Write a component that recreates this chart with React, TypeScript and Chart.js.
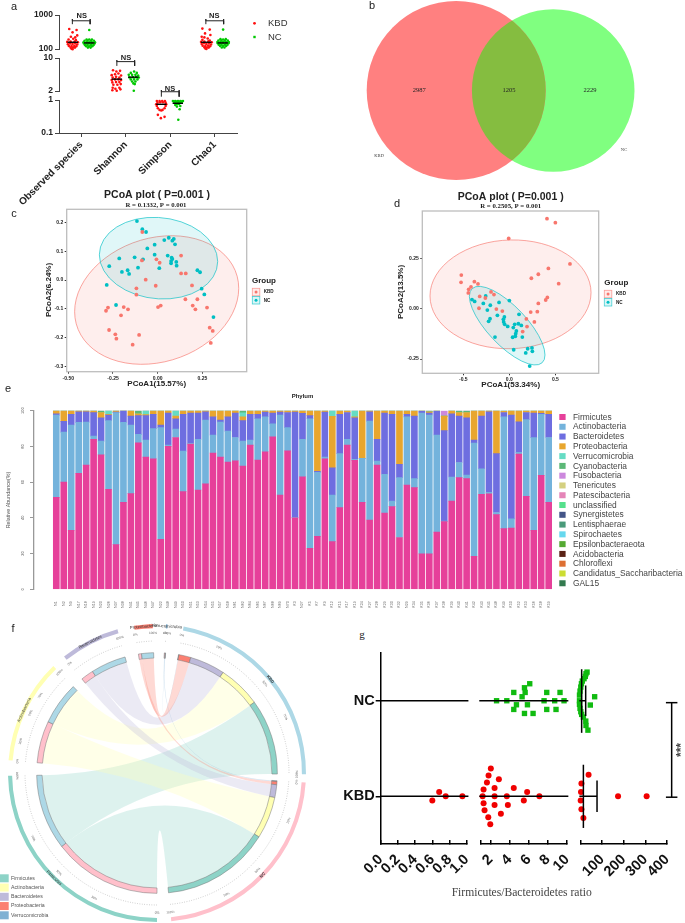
import React, { useEffect, useRef } from "react";
import { Chart, registerables } from "chart.js";
Chart.register(...registerables);

const SANS = '"Liberation Sans"';
const SERIF = '"Liberation Serif"';
const RED = "#ff1010";
const GREEN = "#00c800";
const GG_RED = "#f8766d";
const GG_BLUE = "#00bfc4";

/* ---------- panel a ---------- */
const alphaMetrics = ["Observed species", "Shannon", "Simpson", "Chao1"];
const observedKBD = [[-.075,389],[.09,363],[0,309],[-.038,229],[.06,219],[.105,251],[-.09,191],[.015,200],[.075,182],[-.12,162],[-.045,166],[.045,166],[.12,158],[-.105,138],[-.053,145],[0,141],[.06,145],[.105,135],[-.083,123],[-.023,123],[.038,123],[.083,120],[-.045,110],[.008,110],[.053,110],[0,98],[-.023,102]];
const observedNC = [[0,363],[-.06,191],[0,191],[.06,191],[-.105,174],[-.038,174],[.038,174],[.105,174],[-.128,158],[-.06,158],[0,158],[.06,158],[.128,158],[-.12,145],[-.06,145],[0,145],[.06,145],[.12,145],[-.098,132],[-.038,132],[.038,132],[.098,132],[-.068,120],[0,120],[.068,120],[-.03,110],[.03,110]];
const shannonKBD = [[-.083,5.51],[-.008,5.17],[.075,5.34],[-.113,4.33],[-.038,4.54],[.038,4.69],[.098,4.26],[-.09,3.87],[-.015,3.99],[.06,3.87],[-.113,3.4],[-.038,3.52],[.038,3.52],[.098,3.4],[-.098,3.04],[-.015,3.09],[.06,3.09],[-.075,2.71],[.015,2.71],[.09,2.8],[-.09,2.35],[-.03,2.24],[.06,2.35],[0,2.03],[-.098,2.07],[.083,2.17]];
const shannonNC = [[.015,5.17],[-.06,4.84],[.075,4.84],[-.105,4.4],[-.03,4.4],[.045,4.4],[.105,4.26],[-.09,3.87],[-.015,3.93],[.06,3.93],[.12,3.87],[-.06,3.52],[.015,3.52],[.09,3.52],[-.03,3.19],[.045,3.19],[0,2.9],[.03,2.8],[.008,2.03]];
const simpsonKBD = [[-.098,.933],[-.038,.933],[.023,.933],[.083,.933],[-.083,.832],[-.023,.851],[.038,.851],[.098,.832],[-.113,.741],[.113,.741],[-.098,.661],[.098,.661],[-.075,.562],[.075,.562],[-.038,.501],[.03,.501],[0,.479],[-.075,.355],[-.008,.282],[.075,.309]];
const simpsonNC = [[-.113,.933],[-.06,.933],[0,.933],[.06,.933],[.113,.933],[-.09,.891],[-.03,.891],[.03,.891],[.09,.891],[-.06,.832],[0,.832],[.06,.832],[-.023,.759],[.023,.759],[-.06,.708],[-.023,.631],[.053,.661],[.038,.525],[.008,.251]];
const chaoKBD = [[-.09,398],[.075,372],[-.03,288],[-.105,229],[.09,257],[-.045,219],[.03,204],[-.09,186],[.075,178],[-.12,162],[-.045,166],[.045,168],[.12,158],[-.105,140],[-.053,147],[0,141],[.06,145],[.105,135],[-.083,125],[-.023,123],[.038,125],[.083,120],[-.045,112],[.008,110],[.053,110],[0,100],[-.023,104]];
const chaoNC = [[0,372],[-.06,195],[0,191],[.06,195],[-.105,176],[-.038,176],[.038,176],[.105,176],[-.128,160],[-.06,160],[0,160],[.06,160],[.128,160],[-.12,147],[-.06,147],[0,147],[.06,147],[.12,147],[-.098,134],[-.038,134],[.038,134],[.098,134],[-.068,122],[0,122],[.068,122],[-.03,111],[.03,111]];
const meansTop = [[0,158,151],[3,158,151]];
const meanShannon = [3.57, 3.93];
const meanSimpson = [0.741, 0.794];

/* ---------- panel b ---------- */
const vennCounts = [2987, 1205, 2229];
const vennX = [0, 97];
const vennR = [89.5, 81.3];

/* ---------- panel c ---------- */
const pcoaC_KBD = [[-.086,.167],[.131,.085],[-.007,.072],[-.088,.068],[.011,.06],[.131,.023],[.157,.023],[-.067,.001],[-.011,-.02],[.192,-.019],[-.119,-.029],[-.119,-.051],[.155,-.067],[.222,-.067],[.017,-.089],[.002,-.094],[.196,-.089],[.211,-.102],[.276,-.096],[-.278,-.096],[-.289,-.107],[-.19,-.094],[-.166,-.102],[-.205,-.123],[-.272,-.174],[-.237,-.189],[-.231,-.204],[-.104,-.191],[-.14,-.225],[.291,-.166],[.308,-.177],[.297,-.219]];
const pcoaC_NC = [[-.116,.205],[-.086,.177],[-.065,.167],[.062,.147],[.037,.139],[.09,.143],[.082,.137],[.097,.124],[-.017,.123],[-.058,.11],[-.017,.088],[.056,.085],[-.215,.075],[-.129,.079],[-.082,.072],[.078,.078],[.082,.073],[.075,.066],[.104,.063],[.075,.058],[.106,.05],[-.271,.048],[-.11,.043],[.009,.041],[-.168,.034],[-.2,.028],[-.16,.021],[.222,.034],[.237,.027],[-.285,-.017],[.246,-.03],[.261,-.05],[-.233,-.087],[.312,-.129]];
const ellipsesC = [
  { c: [-.0056, -.0696], u: [.459, .0406], v: [0, .22], rgb: "248,118,109" },
  { c: [.0047, .076], u: [.331, -.0116], v: [0, .1416], rgb: "0,191,196" },
];

/* ---------- panel d ---------- */
const pcoaD_KBD = [[.409,.447],[.5,.427],[-.007,.349],[.659,.222],[.424,.2],[.315,.171],[.239,.151],[.536,.124],[-.522,.167],[-.525,.131],[-.38,.134],[-.341,.123],[-.417,.108],[-.442,.096],[-.446,.078],[-.199,.083],[-.167,.07],[-.322,.061],[-.261,.053],[.413,.056],[.395,.043],[.315,.026],[-.33,.002],[-.141,-.002],[-.076,-.012],[.232,-.017],[.304,-.015],[.185,-.051],[.272,-.066],[.192,-.089],[.145,-.114]];
const pcoaD_NC = [[0,.04],[-.406,.045],[-.377,.036],[-.257,.063],[-.283,.026],[-.207,.017],[-.112,.031],[-.239,-.007],[.105,-.028],[-.13,-.033],[-.054,-.041],[-.21,-.05],[-.065,-.053],[-.225,-.063],[-.062,-.066],[-.051,-.078],[-.018,-.088],[.098,-.075],[.13,-.083],[.058,-.078],[.043,-.094],[.076,-.111],[.069,-.124],[.065,-.137],[.036,-.142],[.141,-.141],[-.156,-.141],[.047,-.204],[.199,-.199],[.246,-.195],[.25,-.212],[.178,-.22],[.221,-.285]];
const ellipsesD = [
  { c: [.0127, .0712], u: [.875, .0083], v: [0, .27], rgb: "248,118,109" },
  { c: [-.0236, -.0844], u: [.411, -.1457], v: [0, .13], rgb: "0,191,196" },
];

/* ---------- panel e ---------- */
const sampleNames = ["N1","N2","N9","N17","N18","N19","N20","N26","N37","N38","N41","N45","N46","N47","N22","N48","N49","N50","N51","N53","N54","N55","N57","N58","N61","N62","N64","N65","N67","N68","N69","N70","K3","N27","K5","K7","K9","K12","K15","K17","K19","K24","K27","K28","K29","K30","K32","N29","K34","K35","K36","K37","K38","K39","K40","K41","K42","K43","K45","K48","K49","K50","K52","K53","K56","K58","K59"];
const firmicutes = [51.5,60,33,65,69.5,84,75.3,56,25,48.7,53.6,82,74,73,28,80,85,54.7,81.3,55.6,59,76.3,74,71.3,72,69,80.7,72.4,77,85.3,52.8,77.5,40,63,23,29.6,73,26.7,45.7,80.7,72.2,48.7,38.8,69.6,42.7,46.3,29,58.4,56.9,19.8,19.8,32,37.9,49.4,62.5,62,18.5,53.2,53.5,41.8,34,34.3,75.7,52,33,63.8,48.7];
const actinobacteria = [46,28,59,28.5,24.1,1.8,7.7,38.4,73.9,44.8,38.4,4.7,9.6,17,62.5,.8,4.7,22.7,.4,28.4,35.8,10.1,19.6,17.3,13,14,2.9,23.1,19.6,7.4,44.8,13,.3,21,72.5,35.9,1,26.1,30.3,3.3,.6,24.6,55.4,2.2,21.7,3.1,33.5,38.1,5.1,78.9,77.8,54.4,.3,13.5,8.5,2,63.4,14.3,.8,1.2,62.5,5.1,1,43,51.9,34.2,36.3];
const bacteroidetes = [.8,6,6,5.9,5.8,13.1,13,3.2,.3,6.5,5,10.5,13.6,8,1.5,17.9,5.8,20.6,17,14.7,4.6,10.1,1.2,7.9,13.7,11.4,14.4,2.5,2.6,6,1.6,8.5,58.9,14.5,1.7,.5,25.2,15.2,22,15,23.2,0,5.2,12.2,34.3,48.6,7.5,1.5,35,1.1,1.1,13.4,50.6,35.4,26,32,1.7,29.5,45.1,33,2.5,58.2,17,4,13.8,.5,13];
const proteobacteria = [1.7,6,2,.6,.6,1.1,3,.4,.8,0,3,1.1,.6,2,8,1.3,1.5,2,1.3,1.3,.6,3.5,5.2,3.5,1.3,2.2,2,2,.8,1.3,.8,1,.8,1.5,2.8,34,.8,28.8,2,1,.6,26.7,.6,16,1.3,2,30,2,3,.2,.7,.2,8.2,1.7,2,3,16.4,3,.6,24,.6,2.4,6.3,1,1.3,1.5,2];
const verrucoSparse = { 8: 2, 13: 2.2, 17: 3, 26: 2.2, 38: 3.2, 41: 3.4, 61: .4 };
const cyanoSparse = { 7: 1, 12: 1.7, 26: 1.2, 51: .6, 55: 1, 56: 1 };
const fusoSparse = { 53: 3 };
const phylumNames = ["Firmicutes","Actinobacteria","Bacteroidetes","Proteobacteria","Verrucomicrobia","Cyanobacteria","Fusobacteria","Tenericutes","Patescibacteria","unclassified","Synergistetes","Lentisphaerae","Spirochaetes","Epsilonbacteraeota","Acidobacteria","Chloroflexi","Candidatus_Saccharibacteria","GAL15"];
const phylumColors = ["#e6409a","#74b3dc","#6e6ee0","#e8a62e","#66dcc4","#5cb877","#cc88dd","#d4d080","#e585b8","#55e08c","#445588","#4a9a7a","#66d8ee","#55aa33","#5a2216","#dd6f33","#ccdd33","#337a4f"];
const fromSparse = (m: Record<number, number>) => sampleNames.map((_, i) => m[i + 1] || 0);
const abundance = [firmicutes, actinobacteria, bacteroidetes, proteobacteria, fromSparse(verrucoSparse), fromSparse(cyanoSparse), fromSparse(fusoSparse)];

/* ---------- panel f ---------- */
const chordPhyla = ["Firmicutes","Actinobacteria","Bacteroidetes","Proteobacteria","Verrucomicrobia"];
const chordColors = ["#8dd3c7","#ffffb3","#bebada","#fb8072","#80b1d3"];
const chordKBD = [36.5, 20.7, 17, 5.8, .2];
const chordNC = [52.4, 20.3, 6.2, 1.5, .4];
const groupColors = { KBD: "#add8e6", NC: "#ffc0cb" };
const chordSectors = ["Verrucomicrobia","KBD","NC","Firmicutes","Actinobacteria","Bacteroidetes","Proteobacteria"];
const chordGaps = [6.2, 3.2, 5.5, 6, 5.5, 6.5, 5.1];
const chordTicks: Record<string, number[]> = {
  Verrucomicrobia: [0, 100], KBD: [0, 20, 50, 70, 100], NC: [0, 20, 50, 70, 100], Firmicutes: [0, 30, 50, 70, 100],
  Actinobacteria: [0, 20, 50, 70, 100], Bacteroidetes: [0, 100], Proteobacteria: [0, 100],
};

/* ---------- panel g ---------- */
const ratioSeg1KBD = [[.6,.955],[.68,1.045],[.756,1],[.95,1]];
const ratioSeg2KBD = [[2.03,1.29],[1.79,1.217],[1.62,1.143],[2.87,1.178],[1.27,1.07],[2.42,1.087],[4.43,1.087],[1.17,1],[2.42,1],[3.7,1],[5.83,1.045],[7.11,1],[5.48,.955],[1.27,.927],[2.42,.909],[3.81,.909],[1.37,.853],[3.08,.818],[1.76,.78],[1.97,.706]];
const ratioSeg2NC = [[6.1,2.178],[5.55,2.136],[5.62,2.087],[4.43,2.087],[5.3,2.042],[7.88,2.087],[9.27,2.087],[2.63,2],[3.7,2],[7.6,2],[8.71,2],[9.69,2],[4.71,1.958],[5.86,1.958],[4.43,1.909],[7.88,1.909],[8.85,1.909],[5.55,1.867],[6.45,1.867]];
const ratioSeg3KBD = [[38,1.224],[5,1.133],[3,1.045],[1.5,.955],[5,.864],[14,.773],[174,1],[306,1]];
const ratioSeg3NC = [[31,2.3],[26,2.283],[23,2.255],[17,2.231],[9,2.206],[5,2.178],[2,2.143],[-1.5,2.101],[-4,2.059],[-4,2],[-4,1.962],[-1.5,1.92],[2,1.885],[6,1.857],[14,1.829],[25,1.787],[26,1.741],[35,1.692],[66,2.042],[46,1.955]];
const ratioTicks1 = [0, .2, .4, .6, .8, 1];
const ratioTicks2 = [1, 2, 4, 6, 8, 10];
const ratioTicks3 = [3, 100, 200, 300, 400];
const groupNames = ["KBD", "NC"];

/* ---------- helpers ---------- */
type Note = { t: string; x: number; y: number; f: string; c?: string; r?: number; a?: CanvasTextAlign };
const notesPlugin = (notes: Note[], left: number, top: number) => ({
  id: "notes",
  afterDraw(chart: any) {
    const ctx = chart.ctx;
    notes.forEach((n) => {
      ctx.save();
      ctx.translate(n.x - left, n.y - top);
      if (n.r) ctx.rotate((n.r * Math.PI) / 180);
      ctx.font = n.f;
      ctx.fillStyle = n.c || "#222";
      ctx.textAlign = n.a || "center";
      ctx.textBaseline = "middle";
      ctx.fillText(n.t, 0, 0);
      ctx.restore();
    });
  },
});
const fixTicks = (vals: number[]) => (s: any) => { s.ticks = vals.map((value) => ({ value })); };
const xFit = (h: number) => (s: any) => { s.height = h; s.paddingLeft = 0; s.paddingRight = 0; };
const baseOptions = (padding: any, scales: any) => ({
  responsive: false, animation: false as const, events: [],
  layout: { padding, autoPadding: false },
  plugins: { legend: { display: false }, tooltip: { enabled: false } },
  scales,
});
const dots = (data: any[], color: string, r: number, style = "circle") => ({
  data, backgroundColor: color, borderWidth: 0, pointRadius: r, pointStyle: style, clip: false as any, showLine: false, order: 2,
});
const stroke = (data: any[], color: string, w: number) => ({
  data, borderColor: color, borderWidth: w, pointRadius: 0, showLine: true, clip: false as any, tension: 0, order: 1, fill: false,
});
const swarm = (i: number, centre: number, pairs: number[][]) => pairs.map(([dx, y]) => ({ x: i + centre + dx, y }));
const bracket = (i: number, hi: number, mid: number, lo: number) => stroke(
  [{ x: i - .2, y: lo }, { x: i - .2, y: hi }, { x: i - .2, y: mid }, { x: i + .2, y: mid }, { x: i + .2, y: hi }, { x: i + .2, y: lo }], "#222", 1);
const meanLine = (x: number, y: number) => stroke([{ x: x - .117, y }, { x: x + .117, y }], "#000", 1.4);

/* a */
const axisA = (min: number, max: number, ticks: number[]) => ({
  type: "logarithmic", min, max, afterBuildTicks: fixTicks(ticks), afterFit: (s: any) => { s.width = 59; },
  border: { color: "#444", width: 1 }, grid: { drawOnChartArea: false, tickLength: 4, color: "#444" },
  ticks: { padding: 2, color: "#222", font: { family: SANS, size: 8.5, weight: "bold" }, callback: (v: number) => String(v) },
});
const xHidden = { type: "linear", min: -.5, max: 3.5, display: false };
const configA1 = () => ({
  type: "scatter",
  data: { datasets: [
    dots(swarm(0, -.195, observedKBD), RED, 1.3), dots(swarm(0, .18, observedNC), GREEN, 1.3),
    dots(swarm(3, -.188, chaoKBD), RED, 1.3), dots(swarm(3, .188, chaoNC), GREEN, 1.3),
    ...meansTop.flatMap(([i, a, b]) => [meanLine(i - .19, a), meanLine(i + .18, b)]),
    bracket(0, 760, 676, 537), bracket(3, 760, 676, 537),
  ] },
  options: baseOptions({ top: 15, bottom: 11, right: 63, left: 0 }, { x: xHidden, y: axisA(100, 1000, [100, 1000]) }),
  plugins: [
    notesPlugin([
      { t: "NS", x: 81.7, y: 15.7, f: `bold 7.5px ${SANS}` }, { t: "NS", x: 214.3, y: 16, f: `bold 7.5px ${SANS}` },
      { t: "KBD", x: 268, y: 23.5, f: `9.5px ${SANS}`, c: "#333", a: "left" }, { t: "NC", x: 268, y: 37, f: `9.5px ${SANS}`, c: "#333", a: "left" },
    ], 0, 0),
    { id: "key", afterDraw(c: any) { const g = c.ctx; g.fillStyle = RED; g.beginPath(); g.arc(254.5, 23.3, 1.4, 0, 7); g.fill(); g.fillStyle = GREEN; g.fillRect(253.3, 35.8, 2.4, 2.4); } },
  ],
});
const configA2 = () => ({
  type: "scatter",
  data: { datasets: [
    dots(swarm(1, -.203, shannonKBD), RED, 1.3), dots(swarm(1, .173, shannonNC), GREEN, 1.3),
    meanLine(1 - .2, meanShannon[0]), meanLine(1 + .17, meanShannon[1]),
    bracket(1, 9.0, 8.38, 6.8),
  ] },
  options: baseOptions({ top: 8, bottom: 9, right: 63, left: 0 }, { x: xHidden, y: axisA(2, 10, [2, 10]) }),
  plugins: [notesPlugin([{ t: "NS", x: 126, y: 57.7, f: `bold 7.5px ${SANS}` }], 0, 50)],
});
const configA3 = () => ({
  type: "scatter",
  data: { datasets: [
    dots(swarm(2, -.203, simpsonKBD), RED, 1.3), dots(swarm(2, .173, simpsonNC), GREEN, 1.3),
    meanLine(2 - .2, meanSimpson[0]), meanLine(2 + .17, meanSimpson[1]),
    bracket(2, 2.0, 1.78, 1.26),
  ] },
  options: baseOptions({ top: 20, bottom: 0, right: 63, left: 0 }, {
    x: {
      type: "linear", min: -.5, max: 3.5, afterBuildTicks: fixTicks([0, 1, 2, 3]), afterFit: xFit(72),
      border: { color: "#444", width: 1 }, grid: { drawOnChartArea: false, tickLength: 4, color: "#444" },
      ticks: { minRotation: 45, maxRotation: 45, autoSkip: false, padding: 2, color: "#222", font: { family: SANS, size: 10, weight: "bold" }, callback: (v: number) => alphaMetrics[v] },
    },
    y: axisA(.1, 1, [.1, 1]),
  }),
  plugins: [notesPlugin([{ t: "NS", x: 170, y: 89.3, f: `bold 7.5px ${SANS}` }], 0, 80)],
});

/* b */
const configB = () => ({
  type: "bubble",
  data: { datasets: [
    { data: [{ x: vennX[0], y: 0, r: vennR[0] }], backgroundColor: "#ff8080", borderWidth: 0, clip: false as any },
    { data: [{ x: vennX[1], y: 0, r: vennR[1] }], backgroundColor: "#80ff80", borderWidth: 0, clip: false as any },
  ] },
  options: baseOptions(0, {
    x: { type: "linear", min: -106.2, max: 228.8, display: false },
    y: { type: "linear", min: -94.5, max: 90.5, display: false },
  }),
  plugins: [
    { id: "lens", afterDatasetsDraw(c: any) {
      const a = c.getDatasetMeta(0).data[0], b = c.getDatasetMeta(1).data[0], g = c.ctx;
      g.save(); g.beginPath(); g.arc(a.x, a.y, vennR[0], 0, 7); g.clip();
      g.fillStyle = "#85bd40"; g.beginPath(); g.arc(b.x, b.y, vennR[1], 0, 7); g.fill(); g.restore();
    } },
    notesPlugin([
      { t: String(vennCounts[0]), x: 419.3, y: 90.5, f: `6.5px ${SERIF}` }, { t: String(vennCounts[1]), x: 509, y: 90.5, f: `6.5px ${SERIF}` },
      { t: String(vennCounts[2]), x: 590, y: 90.5, f: `6.5px ${SERIF}` },
      { t: "KBD", x: 379, y: 155.5, f: `4.6px ${SERIF}`, c: "#444" }, { t: "NC", x: 624, y: 150, f: `4.6px ${SERIF}`, c: "#444" },
    ], 350, 0),
  ],
});

/* c, d */
const ellipsePlugin = (list: any[]) => ({
  id: "ell",
  beforeDatasetsDraw(c: any) {
    const g = c.ctx, X = c.scales.x, Y = c.scales.y;
    list.forEach((e) => {
      const cx = X.getPixelForValue(e.c[0]), cy = Y.getPixelForValue(e.c[1]);
      const ux = X.getPixelForValue(e.c[0] + e.u[0]) - cx, uy = Y.getPixelForValue(e.c[1] + e.u[1]) - cy;
      const vx = X.getPixelForValue(e.c[0] + e.v[0]) - cx, vy = Y.getPixelForValue(e.c[1] + e.v[1]) - cy;
      g.save(); g.beginPath(); g.transform(ux, uy, vx, vy, cx, cy); g.arc(0, 0, 1, 0, Math.PI * 2); g.restore();
      g.fillStyle = `rgba(${e.rgb},.12)`; g.fill();
      g.strokeStyle = `rgba(${e.rgb},.65)`; g.lineWidth = 1; g.stroke();
    });
  },
});
const boxPlugin = { id: "box", afterDraw(c: any) { const a = c.chartArea, g = c.ctx; g.strokeStyle = "#bdbdbd"; g.lineWidth = 1.3; g.strokeRect(a.left, a.top, a.right - a.left, a.bottom - a.top); } };
const keyPlugin = (kx: number, ky: number, left: number, top: number) => ({
  id: "gkey",
  afterDraw(c: any) {
    const g = c.ctx;
    [["248,118,109", GG_RED], ["0,191,196", GG_BLUE]].forEach(([rgb, col], i) => {
      const x = kx - left, y = ky - top + i * 8.2;
      g.fillStyle = `rgba(${rgb},.14)`; g.fillRect(x, y, 7.5, 7.5);
      g.strokeStyle = `rgba(${rgb},.7)`; g.lineWidth = .8; g.strokeRect(x, y, 7.5, 7.5);
      g.fillStyle = col; g.beginPath(); g.arc(x + 3.75, y + 3.75, 1.5, 0, 7); g.fill();
    });
  },
});
const pcoaAxis = (ticks: number[], min: number, max: number, fit: any, fmt: (v: number) => string) => ({
  type: "linear", min, max, afterBuildTicks: fixTicks(ticks), afterFit: fit,
  border: { display: false }, grid: { drawOnChartArea: false, tickLength: 2, color: "#333" },
  ticks: { padding: 1.5, color: "#222", font: { family: SANS, size: 5, weight: "bold" }, autoSkip: false, maxRotation: 0, callback: fmt },
});
const pairs = (a: number[][]) => a.map(([x, y]) => ({ x, y }));
const configC = () => ({
  type: "scatter",
  data: { datasets: [dots(pairs(pcoaC_KBD), GG_RED, 1.9), dots(pairs(pcoaC_NC), GG_BLUE, 1.9)] },
  options: baseOptions({ top: 24.3, right: 93.3, left: 0, bottom: 0 }, {
    x: pcoaAxis([-.5, -.25, 0, .25], -.509, .498, xFit(18.3), (v) => v.toFixed(2)),
    y: pcoaAxis([-.3, -.2, -.1, 0, .1, .2], -.319, .246, (s: any) => { s.width = 66.7; }, (v) => v.toFixed(1)),
  }),
  plugins: [ellipsePlugin(ellipsesC), boxPlugin, keyPlugin(252.3, 288.3, 0, 185), notesPlugin([
    { t: "PCoA plot ( P=0.001 )", x: 157, y: 195.3, f: `bold 10.5px ${SANS}` },
    { t: "R = 0.1332, P = 0.001", x: 156, y: 205.2, f: `bold 6.8px ${SERIF}` },
    { t: "PCoA1(15.57%)", x: 156.7, y: 384, f: `bold 8px ${SANS}` },
    { t: "PCoA2(6.24%)", x: 49, y: 290, f: `bold 8px ${SANS}`, r: -90 },
    { t: "Group", x: 252, y: 281, f: `bold 8px ${SANS}`, a: "left" },
    { t: "KBD", x: 263.7, y: 292.2, f: `bold 4.6px ${SANS}`, a: "left" },
    { t: "NC", x: 263.7, y: 300.4, f: `bold 4.6px ${SANS}`, a: "left" },
  ], 0, 185)],
});
const configD = () => ({
  type: "scatter",
  data: { datasets: [dots(pairs(pcoaD_KBD), GG_RED, 1.9), dots(pairs(pcoaD_NC), GG_BLUE, 1.9)] },
  options: baseOptions({ top: 26, right: 86.3, left: 0, bottom: 0 }, {
    x: pcoaAxis([-.5, 0, .5], -.946, .971, xFit(16.7), (v) => v.toFixed(1)),
    y: pcoaAxis([-.25, 0, .25], -.321, .485, (s: any) => { s.width = 82.3; }, (v) => v.toFixed(2)),
  }),
  plugins: [ellipsePlugin(ellipsesD), boxPlugin, keyPlugin(604.3, 290.3, 340, 185), notesPlugin([
    { t: "PCoA plot ( P=0.001 )", x: 510.7, y: 196.7, f: `bold 10.5px ${SANS}` },
    { t: "R = 0.2505, P = 0.001", x: 510.7, y: 206.4, f: `bold 6.8px ${SERIF}` },
    { t: "PCoA1(53.34%)", x: 510.7, y: 385, f: `bold 8px ${SANS}` },
    { t: "PCoA2(13.5%)", x: 401, y: 292, f: `bold 8px ${SANS}`, r: -90 },
    { t: "Group", x: 604.3, y: 282.7, f: `bold 8px ${SANS}`, a: "left" },
    { t: "KBD", x: 616, y: 294.2, f: `bold 4.6px ${SANS}`, a: "left" },
    { t: "NC", x: 616, y: 302.4, f: `bold 4.6px ${SANS}`, a: "left" },
  ], 340, 185)],
});

/* e */
const configE = () => ({
  type: "bar",
  data: {
    datasets: phylumNames.map((label, k) => ({
      label,
      data: (abundance[k] || []).map((y, x) => ({ x, y })),
      backgroundColor: phylumColors[k], barThickness: 6, borderWidth: 0,
    })),
  },
  options: baseOptions({ top: 25.7, right: 132.6, left: 0, bottom: 0 }, {
    x: {
      type: "linear", stacked: true, offset: false, min: -3.03, max: 66.5, afterBuildTicks: fixTicks(sampleNames.map((_, i) => i)), afterFit: xFit(25.7),
      border: { display: false }, grid: { display: false },
      ticks: { minRotation: 90, maxRotation: 90, autoSkip: false, padding: 4, color: "#666", font: { family: SANS, size: 3.6 }, callback: (v: number) => sampleNames[v] },
    },
    y: {
      type: "linear", stacked: true, min: 0, max: 100, afterBuildTicks: fixTicks([0, 20, 40, 60, 80, 100]), afterFit: (s: any) => { s.width = 33.7; },
      border: { color: "#999", width: 1.3 }, grid: { drawOnChartArea: false, tickLength: 3.7, color: "#999" },
      ticks: { display: false },
    },
  }),
  plugins: [
    { id: "eExtras", afterDraw(c: any) {
      const g = c.ctx, Y = c.scales.y;
      g.textAlign = "center"; g.textBaseline = "middle";
      [0, 20, 40, 60, 80, 100].forEach((v) => {
        g.save(); g.translate(22.7, Y.getPixelForValue(v)); g.rotate(-Math.PI / 2);
        g.font = `4px ${SANS}`; g.fillStyle = "#555"; g.fillText(String(v), 0, 0); g.restore();
      });
      phylumNames.forEach((name, i) => {
        const y = 32 + i * 9.78;
        g.fillStyle = phylumColors[i]; g.fillRect(559.3, y - 3, 6.3, 6);
        g.fillStyle = "#444"; g.font = `8.4px ${SANS}`; g.textAlign = "left"; g.fillText(name, 573, y + .3);
      });
    } },
    notesPlugin([
      { t: "Phylum", x: 302.5, y: 396.7, f: `bold 6px ${SANS}` },
      { t: "Relative Abundance(%)", x: 9, y: 500, f: `5.4px ${SANS}`, c: "#555", r: -90 },
    ], 0, 385),
  ],
});

/* f */
type Block = { sector: number; phylum: number; group: string; v: number; color: string };
const buildChord = () => {
  const outerVals: number[] = [], outerCols: string[] = [], innerVals: number[] = [], innerCols: string[] = [], innerBorder: string[] = [], innerBw: number[] = [];
  const blocks: (Block | null)[] = [];
  const rev = [4, 3, 2, 1, 0];
  chordSectors.forEach((name, s) => {
    const p = chordPhyla.indexOf(name);
    let list: Block[];
    if (p >= 0) {
      list = [
        { sector: s, phylum: p, group: "NC", v: chordNC[p], color: groupColors.NC },
        { sector: s, phylum: p, group: "KBD", v: chordKBD[p], color: groupColors.KBD },
      ];
    } else {
      const src = name === "KBD" ? chordKBD : chordNC;
      list = rev.map((q) => ({ sector: s, phylum: q, group: name, v: src[q], color: chordColors[q] }));
    }
    const total = list.reduce((t, b) => t + b.v, 0);
    outerVals.push(total, chordGaps[s]);
    outerCols.push(p >= 0 ? chordColors[p] : (groupColors as any)[name], "rgba(0,0,0,0)");
    list.forEach((b) => { innerVals.push(b.v); innerCols.push(b.color); innerBorder.push("#777"); innerBw.push(.5); blocks.push(b); });
    innerVals.push(chordGaps[s]); innerCols.push("rgba(0,0,0,0)"); innerBorder.push("rgba(0,0,0,0)"); innerBw.push(0); blocks.push(null);
  });
  return { outerVals, outerCols, innerVals, innerCols, innerBorder, innerBw, blocks };
};
const configF = () => {
  const ch = buildChord();
  const ribbons = {
    id: "ribbons",
    beforeDatasetsDraw(c: any) {
      const arcs = c.getDatasetMeta(2).data, g = c.ctx, R = 114.8;
      const cx = arcs[0].x, cy = arcs[0].y;
      const P = (a: number) => [cx + R * Math.cos(a), cy + R * Math.sin(a)];
      const find = (pred: (b: Block) => boolean) => arcs[ch.blocks.findIndex((b) => b && pred(b))];
      chordPhyla.forEach((name, p) => {
        const sec = chordSectors.indexOf(name);
        ["KBD", "NC"].forEach((grp) => {
          const a = find((b) => b.sector === sec && b.group === grp);
          const b = find((k) => k.sector === chordSectors.indexOf(grp) && k.phylum === p);
          g.beginPath();
          g.arc(cx, cy, R, a.startAngle, a.endAngle);
          let q = P(b.startAngle); g.quadraticCurveTo(cx, cy, q[0], q[1]);
          g.arc(cx, cy, R, b.startAngle, b.endAngle);
          q = P(a.startAngle); g.quadraticCurveTo(cx, cy, q[0], q[1]);
          g.closePath();
          g.fillStyle = chordColors[p] + "4d"; g.fill();
        });
      });
    },
    afterDatasetsDraw(c: any) {
      const arcs = c.getDatasetMeta(0).data, g = c.ctx;
      const cx = arcs[0].x, cy = arcs[0].y;
      const put = (t: string, a: number, r: number, font: string, col: string) => {
        let rot = a + Math.PI / 2; if (Math.sin(a) > 0) rot += Math.PI;
        g.save(); g.translate(cx + r * Math.cos(a), cy + r * Math.sin(a)); g.rotate(rot);
        g.font = font; g.fillStyle = col; g.textAlign = "center"; g.textBaseline = "middle"; g.fillText(t, 0, 0); g.restore();
      };
      chordSectors.forEach((name, s) => {
        const el = arcs[s * 2];
        g.save(); g.setLineDash([.8, 1.6]); g.strokeStyle = "#888"; g.lineWidth = .5; g.beginPath(); g.arc(cx, cy, 132, el.startAngle, el.endAngle); g.stroke(); g.restore();
        (chordTicks[name] || []).forEach((pc) => put(pc + "%", el.startAngle + (el.endAngle - el.startAngle) * pc / 100, 140, `3.2px ${SANS}`, "#666"));
        put(name, (el.startAngle + el.endAngle) / 2, 147, `${name.length < 4 ? "bold " : ""}4.2px ${SANS}`, "#333");
      });
      chordPhyla.forEach((name, i) => {
        const y = 263.3 + i * 9.25;
        g.fillStyle = chordColors[i]; g.fillRect(0, y - 4, 8.7, 8);
        g.fillStyle = "#555"; g.font = `5.2px ${SANS}`; g.textAlign = "left"; g.textBaseline = "middle"; g.fillText(name, 11, y);
      });
    },
  };
  return {
    type: "doughnut",
    data: { datasets: [
      { data: ch.outerVals, backgroundColor: ch.outerCols, borderWidth: 0, weight: 4 },
      { data: [360], backgroundColor: ["rgba(0,0,0,0)"], borderWidth: 0, weight: 24 },
      { data: ch.innerVals, backgroundColor: ch.innerCols, borderColor: ch.innerBorder, borderWidth: ch.innerBw, weight: 5.3 },
    ] },
    options: { ...baseOptions({ top: 8, left: 0, right: 0, bottom: 0 }, {}), rotation: 3.5, circumference: 360, cutout: 115.7, radius: 149 },
    plugins: [ribbons],
  };
};

/* g */
const axisYG = (show: boolean) => ({
  type: "linear", min: .5, max: 2.5, display: show, afterBuildTicks: fixTicks([1, 2]), afterFit: show ? (s: any) => { s.width = 40.7; } : undefined,
  border: { color: "#000", width: 1.5 }, grid: { drawOnChartArea: false, tickLength: 5, color: "#000", lineWidth: 1.5 },
  ticks: { padding: 1, color: "#111", font: { family: SANS, size: 14.5, weight: "bold" }, callback: (v: number) => groupNames[v - 1] },
});
const axisXG = (min: number, max: number, ticks: number[], fmt: (v: number) => string) => ({
  type: "linear", min, max, afterBuildTicks: fixTicks(ticks), afterFit: xFit(79),
  border: { color: "#000", width: 1.5 }, grid: { drawOnChartArea: false, tickLength: -4, color: "#000", lineWidth: 1.5 },
  ticks: { minRotation: 45, maxRotation: 45, autoSkip: false, padding: 11, color: "#111", font: { family: SANS, size: 14.5, weight: "bold" }, callback: fmt },
});
const hline = (a: number, b: number, y: number) => stroke([{ x: a, y }, { x: b, y }], "#000", 1.5);
const vline = (x: number, a: number, b: number) => stroke([{ x, y: a }, { x, y: b }], "#000", 1.5);
const configG1 = () => ({
  type: "scatter",
  data: { datasets: [dots(pairs(ratioSeg1KBD), "#f00000", 3), hline(0, 1.02, 1), hline(0, 1.02, 2)] },
  options: baseOptions({ top: 13, right: 218.3, left: 0, bottom: 0 }, { x: axisXG(0, 1, ratioTicks1, (v) => v.toFixed(1)), y: axisYG(true) }),
  plugins: [notesPlugin([{ t: "Firmicutes/Bacteroidetes ratio", x: 521.7, y: 893, f: `11.6px ${SERIF}`, c: "#444" }], 340, 640)],
});
const configG2 = () => ({
  type: "scatter",
  data: { datasets: [dots(pairs(ratioSeg2KBD), "#f00000", 3), dots(pairs(ratioSeg2NC), "#10bb10", 3.8, "rect"), hline(.82, 10.14, 1), hline(.82, 10.14, 2)] },
  options: baseOptions({ top: 13, right: 8, left: 21, bottom: 0 }, { x: axisXG(1, 10, ratioTicks2, (v) => (v === 1 ? "" : String(v))), y: axisYG(false) }),
  plugins: [],
});
const configG3 = () => ({
  type: "scatter",
  data: { datasets: [
    dots(pairs(ratioSeg3KBD), "#f00000", 3), dots(pairs(ratioSeg3NC), "#10bb10", 3.8, "rect"),
    hline(-4.6, 24.6, 2), hline(-4.6, 77, 1), vline(6, 1.664, 2.33), vline(24.6, 1.84, 2.16), vline(14, .668, 1.33), vline(77, .836, 1.164),
    stroke([{ x: 395, y: 1.98 }, { x: 448, y: 1.98 }], "#000", 1.5), stroke([{ x: 395, y: .99 }, { x: 448, y: .99 }], "#000", 1.5), vline(421.5, .99, 1.98),
  ] },
  options: baseOptions({ top: 13, right: 18, left: 21, bottom: 0 }, { x: axisXG(3, 400, ratioTicks3, (v) => (v === 3 ? "" : String(v))), y: axisYG(false) }),
  plugins: [notesPlugin([
    { t: "***", x: 681.5, y: 750, f: `bold 12px ${SANS}`, c: "#444", r: -90 },
  ], 560, 640)],
});

/* ---------- react ---------- */
function Panel({ left, top, width, height, make }: any) {
  const ref = useRef<HTMLCanvasElement>(null);
  useEffect(() => {
    const c = new Chart(ref.current as any, make());
    return () => c.destroy();
  }, []);
  return <canvas ref={ref} width={width} height={height} style={{ position: "absolute", left, top, width, height }} />;
}
const letters = [
  ["a", 14, 6, SANS], ["b", 372, 5, SANS], ["c", 14, 213, SANS], ["d", 397, 203, SANS],
  ["e", 8, 388, SANS], ["f", 13, 628, SANS], ["g", 362, 634, SERIF],
];
export default function App() {
  return (
    <div style={{ position: "absolute", left: 0, top: 0, width: 685, height: 923, background: "#fff", overflow: "hidden" }}>
      <Panel left={350} top={0} width={335} height={185} make={configB} />
      <Panel left={0} top={0} width={300} height={60} make={configA1} />
      <Panel left={0} top={50} width={300} height={50} make={configA2} />
      <Panel left={0} top={80} width={300} height={125} make={configA3} />
      <Panel left={0} top={185} width={340} height={205} make={configC} />
      <Panel left={340} top={185} width={345} height={205} make={configD} />
      <Panel left={0} top={385} width={685} height={230} make={configE} />
      <Panel left={0} top={615} width={314} height={308} make={configF} />
      <Panel left={340} top={640} width={345} height={283} make={configG1} />
      <Panel left={460} top={640} width={115} height={283} make={configG2} />
      <Panel left={560} top={640} width={125} height={283} make={configG3} />
      {letters.map(([t, x, y, f]) => (
        <div key={t as string} style={{ position: "absolute", left: x as number, top: y as number, transform: "translate(-50%,-50%)", font: `11px ${f}`, color: "#222" }}>{t}</div>
      ))}
    </div>
  );
}
